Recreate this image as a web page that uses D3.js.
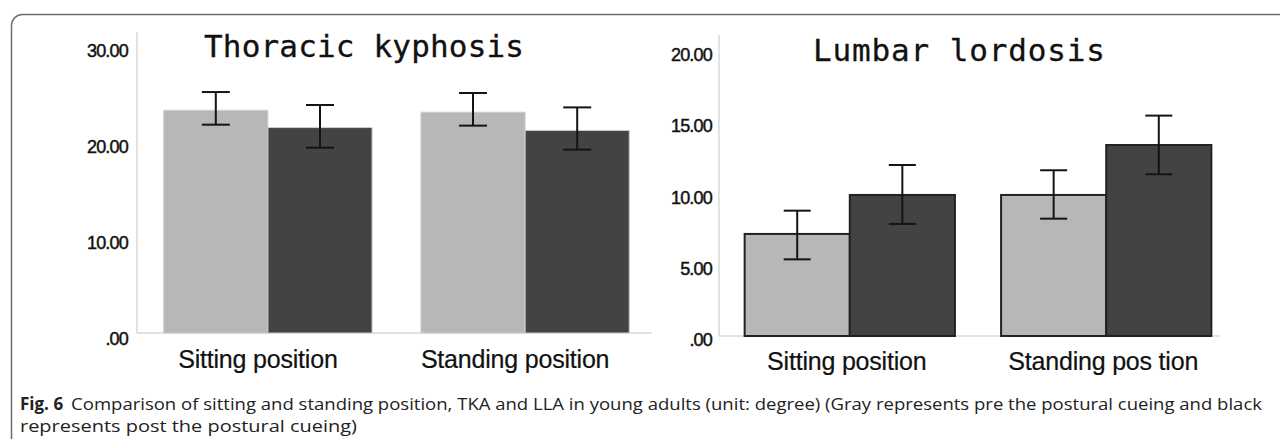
<!DOCTYPE html>
<html lang="en">
<head>
    <meta charset="UTF-8">
    <title>Fig. 6 TKA and LLA</title>
    <script src="https://d3js.org/d3.v7.min.js"></script>
    <style>
        body { margin: 0; background: #fff; }
        .tick text { font-family: "Liberation Sans", Arial, sans-serif; font-size: 18px; fill: #111; stroke: #111; stroke-width: 0.45px; letter-spacing: -0.8px; }
        .cat { font-family: "Liberation Sans", Arial, sans-serif; font-size: 25px; fill: #111; stroke: #111; stroke-width: 0.2px; letter-spacing: -0.2px; }
        .title { font-family: "DejaVu Sans Mono", monospace; font-size: 31px; fill: #111; stroke: #111; stroke-width: 0.3px; }
        .caption { font-family: "Open Sans", "Noto Sans", sans-serif; font-size: 16.5px; fill: #222; }
    </style>
</head>
<body>
    <div id="chart"></div>

    <script>
        // Thoracic kyphosis (left) - gray = pre, dark = post
        const tkCategories = ["Sitting position", "Standing position"];
        const tkPre = [23.2, 23.0];
        const tkPreLow = [21.7, 21.6];
        const tkPreHigh = [25.1, 25.0];
        const tkPost = [21.4, 21.1];
        const tkPostLow = [19.3, 19.1];
        const tkPostHigh = [23.75, 23.5];
        const tkTicks = [0, 10, 20, 30];
        const tkTickLabels = [".00", "10.00", "20.00", "30.00"];

        // Lumbar lordosis (right)
        const llCategories = ["Sitting position", "Standing pos tion"];
        const llPre = [7.15, 9.88];
        const llPreLow = [5.37, 8.22];
        const llPreHigh = [8.78, 11.61];
        const llPost = [9.88, 13.38];
        const llPostLow = [7.85, 11.33];
        const llPostHigh = [11.98, 15.44];
        const llTicks = [0, 5, 10, 15, 20];
        const llTickLabels = [".00", "5.00", "10.00", "15.00", "20.00"];

        const groups = ["pre", "post"];
        const colors = { pre: "#b7b7b7", post: "#434343" };

        const captionLine1 = "Comparison of sitting and standing position, TKA and LLA in young adults (unit: degree) (Gray represents pre the postural cueing and black";
        const captionLine2 = "represents post the postural cueing)";

        const svg = d3.select("#chart")
            .append("svg")
            .attr("width", 1280)
            .attr("height", 439);

        // outer frame of the figure box
        svg.append("rect")
            .attr("x", 11.5)
            .attr("y", 14.5)
            .attr("width", 1320)
            .attr("height", 500)
            .attr("rx", 11)
            .attr("fill", "none")
            .attr("stroke", "#6d6d6d")
            .attr("stroke-width", 1.5);

        function drawPanel(opt) {
            const g = svg.append("g");

            const x = d3.scaleBand()
                .domain(opt.categories)
                .range(opt.xRange)
                .paddingInner(opt.padInner)
                .paddingOuter(0.1);

            const xSub = d3.scaleBand()
                .domain(groups)
                .range([0, x.bandwidth()]);

            const y = d3.scaleLinear()
                .domain([0, opt.ticks[opt.ticks.length - 1]])
                .range(opt.yRange);

            // light axis lines
            g.append("line")
                .attr("x1", opt.axisX).attr("x2", opt.axisX)
                .attr("y1", opt.axisTop).attr("y2", y(0))
                .attr("stroke", "#d9d9d9").attr("stroke-width", 1.5);
            g.append("line")
                .attr("x1", opt.axisX).attr("x2", opt.axisEnd)
                .attr("y1", y(0)).attr("y2", y(0))
                .attr("stroke", "#d9d9d9").attr("stroke-width", 1.5);

            // y axis labels
            const yAxis = g.append("g")
                .attr("transform", "translate(" + opt.axisX + ",0)")
                .call(d3.axisLeft(y)
                    .tickValues(opt.ticks)
                    .tickSize(0)
                    .tickPadding(opt.tickPad)
                    .tickFormat((d, i) => opt.tickLabels[i]));
            yAxis.select(".domain").remove();
            yAxis.selectAll("text").attr("dy", opt.tickDy);

            const rows = opt.categories.map((c, i) => ({
                cat: c,
                values: [
                    { key: "pre", v: opt.pre[i], lo: opt.preLow[i], hi: opt.preHigh[i] },
                    { key: "post", v: opt.post[i], lo: opt.postLow[i], hi: opt.postHigh[i] }
                ]
            }));

            const grp = g.selectAll(".grp")
                .data(rows)
                .enter()
                .append("g")
                .attr("transform", d => "translate(" + x(d.cat) + ",0)");

            grp.selectAll("rect")
                .data(d => d.values)
                .enter()
                .append("rect")
                .attr("x", d => xSub(d.key))
                .attr("y", d => y(d.v))
                .attr("width", xSub.bandwidth())
                .attr("height", d => y(0) - y(d.v))
                .attr("fill", d => colors[d.key])
                .attr("stroke", opt.barStroke)
                .attr("stroke-width", opt.barStrokeWidth);

            // error bars
            const err = grp.selectAll(".err")
                .data(d => d.values)
                .enter()
                .append("g")
                .attr("transform", d => "translate(" + (xSub(d.key) + xSub.bandwidth() / 2) + ",0)")
                .attr("stroke", "#141414")
                .attr("stroke-width", 2);
            err.append("line")
                .attr("y1", d => y(d.lo)).attr("y2", d => y(d.hi));
            err.append("line")
                .attr("x1", -opt.cap / 2).attr("x2", opt.cap / 2)
                .attr("y1", d => y(d.hi)).attr("y2", d => y(d.hi));
            err.append("line")
                .attr("x1", -opt.cap / 2).attr("x2", opt.cap / 2)
                .attr("y1", d => y(d.lo)).attr("y2", d => y(d.lo));

            // category labels
            g.selectAll(".cat")
                .data(opt.categories)
                .enter()
                .append("text")
                .attr("class", "cat")
                .attr("x", d => x(d) + x.bandwidth() / 2 + opt.catDx)
                .attr("y", opt.catY)
                .attr("text-anchor", "middle")
                .text(d => d);

            // title in a monospaced face, stretched to the reference width
            g.append("text")
                .attr("class", "title")
                .attr("x", opt.titleX)
                .attr("y", opt.titleY)
                .attr("textLength", opt.titleW)
                .attr("lengthAdjust", "spacing")
                .text(opt.title);
        }

        drawPanel({
            categories: tkCategories,
            pre: tkPre, preLow: tkPreLow, preHigh: tkPreHigh,
            post: tkPost, postLow: tkPostLow, postHigh: tkPostHigh,
            ticks: tkTicks, tickLabels: tkTickLabels,
            xRange: [138, 655], padInner: 0.19,
            yRange: [333, 45],
            axisX: 137, axisTop: 32, axisEnd: 652,
            tickPad: 9, tickDy: "0.62em",
            barStroke: "#cfcfcf", barStrokeWidth: 1,
            cap: 28, catDx: -10, catY: 368,
            title: "Thoracic kyphosis", titleX: 204, titleY: 57, titleW: 320
        });

        drawPanel({
            categories: llCategories,
            pre: llPre, preLow: llPreLow, preHigh: llPreHigh,
            post: llPost, postLow: llPostLow, postHigh: llPostHigh,
            ticks: llTicks, tickLabels: llTickLabels,
            xRange: [719, 1237], padInner: 0.18,
            yRange: [336, 50.5],
            axisX: 719, axisTop: 35, axisEnd: 1220,
            tickPad: 7, tickDy: "0.55em",
            barStroke: "#222", barStrokeWidth: 2,
            cap: 27, catDx: -3, catY: 370,
            title: "Lumbar lordosis", titleX: 813, titleY: 61, titleW: 292
        });

        // caption
        const fig = svg.append("text")
            .attr("class", "caption")
            .attr("x", 20)
            .attr("y", 410)
            .style("font-weight", "bold")
            .style("font-size", "17px")
            .text("Fig. 6");
        const figW = fig.node().getComputedTextLength();

        svg.append("text")
            .attr("class", "caption")
            .attr("x", 20 + figW + 8)
            .attr("y", 410)
            .attr("textLength", 1262 - (20 + figW + 8))
            .attr("lengthAdjust", "spacingAndGlyphs")
            .text(captionLine1);

        svg.append("text")
            .attr("class", "caption")
            .attr("x", 20)
            .attr("y", 432)
            .attr("textLength", 337)
            .attr("lengthAdjust", "spacingAndGlyphs")
            .text(captionLine2);
    </script>
</body>
</html>
